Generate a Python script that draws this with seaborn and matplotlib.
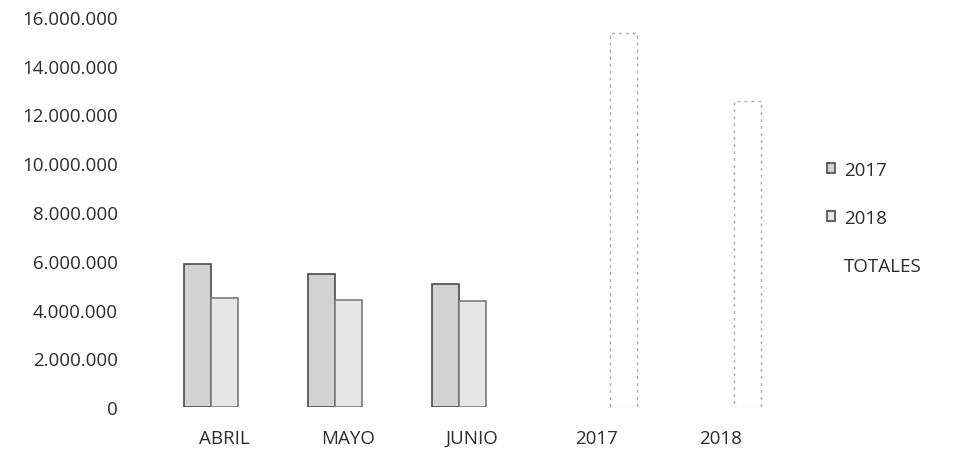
import pandas as pd
import numpy as np
import matplotlib.pyplot as plt
import seaborn as sns
from matplotlib.ticker import FuncFormatter, MultipleLocator

# data
categories = ["ABRIL", "MAYO", "JUNIO", "2017", "2018"]
series = ["2017", "2018", "TOTALES"]
values_2017 = [5870000, 5460000, 5050000, np.nan, np.nan]
values_2018 = [4470000, 4390000, 4350000, np.nan, np.nan]
values_totales = [np.nan, np.nan, np.nan, 15350000, 12550000]

df = pd.DataFrame({
    "categoria": categories * 3,
    "serie": ["2017"] * 5 + ["2018"] * 5 + ["TOTALES"] * 5,
    "valor": values_2017 + values_2018 + values_totales,
})

sns.set_style("white")
plt.rcParams["font.family"] = ["Open Sans", "DejaVu Sans"]
text_color = "#2b2b2b"

fig = plt.figure(figsize=(9.54, 4.6), dpi=100)
ax = fig.add_axes([0.170, 0.113, 0.650, 0.848])

palette = {"2017": "#d2d2d2", "2018": "#e6e6e6", "TOTALES": "#ffffff"}
sns.barplot(data=df, x="categoria", y="valor", hue="serie", order=categories,
            hue_order=series, palette=palette, width=0.65, ax=ax,
            edgecolor="#4a4a4a", linewidth=1.2)

# faint dotted edges for the totals
for bar in ax.containers[2]:
    bar.set_edgecolor("#a8a8a8")
    bar.set_linestyle((0, (2, 3)))
    bar.set_linewidth(1.0)
for bar in ax.containers[1]:
    bar.set_edgecolor("#7a7a7a")

ax.set_ylim(0, 16000000)
ax.yaxis.set_major_locator(MultipleLocator(2000000))
ax.yaxis.set_major_formatter(FuncFormatter(lambda v, p: f"{int(v):,}".replace(",", ".")))
ax.set_xlabel("")
ax.set_ylabel("")
ax.tick_params(axis="y", length=0, pad=32, labelsize=13.5, labelcolor=text_color)
ax.tick_params(axis="x", length=0, pad=16, labelsize=13.5, labelcolor=text_color)
sns.despine(ax=ax, left=True, bottom=True)

handles, labels = ax.get_legend_handles_labels()
leg = ax.legend(handles, labels, loc="upper left", bbox_to_anchor=(1.045, 0.675),
                frameon=False, fontsize=13.5, labelspacing=1.62, handlelength=0.45,
                handleheight=0.45, handletextpad=0.45, labelcolor=text_color)
# the totals key is blank in the original
leg.legend_handles[2].set_edgecolor("white")

plt.savefig("out.png", dpi=100)
plt.close()
